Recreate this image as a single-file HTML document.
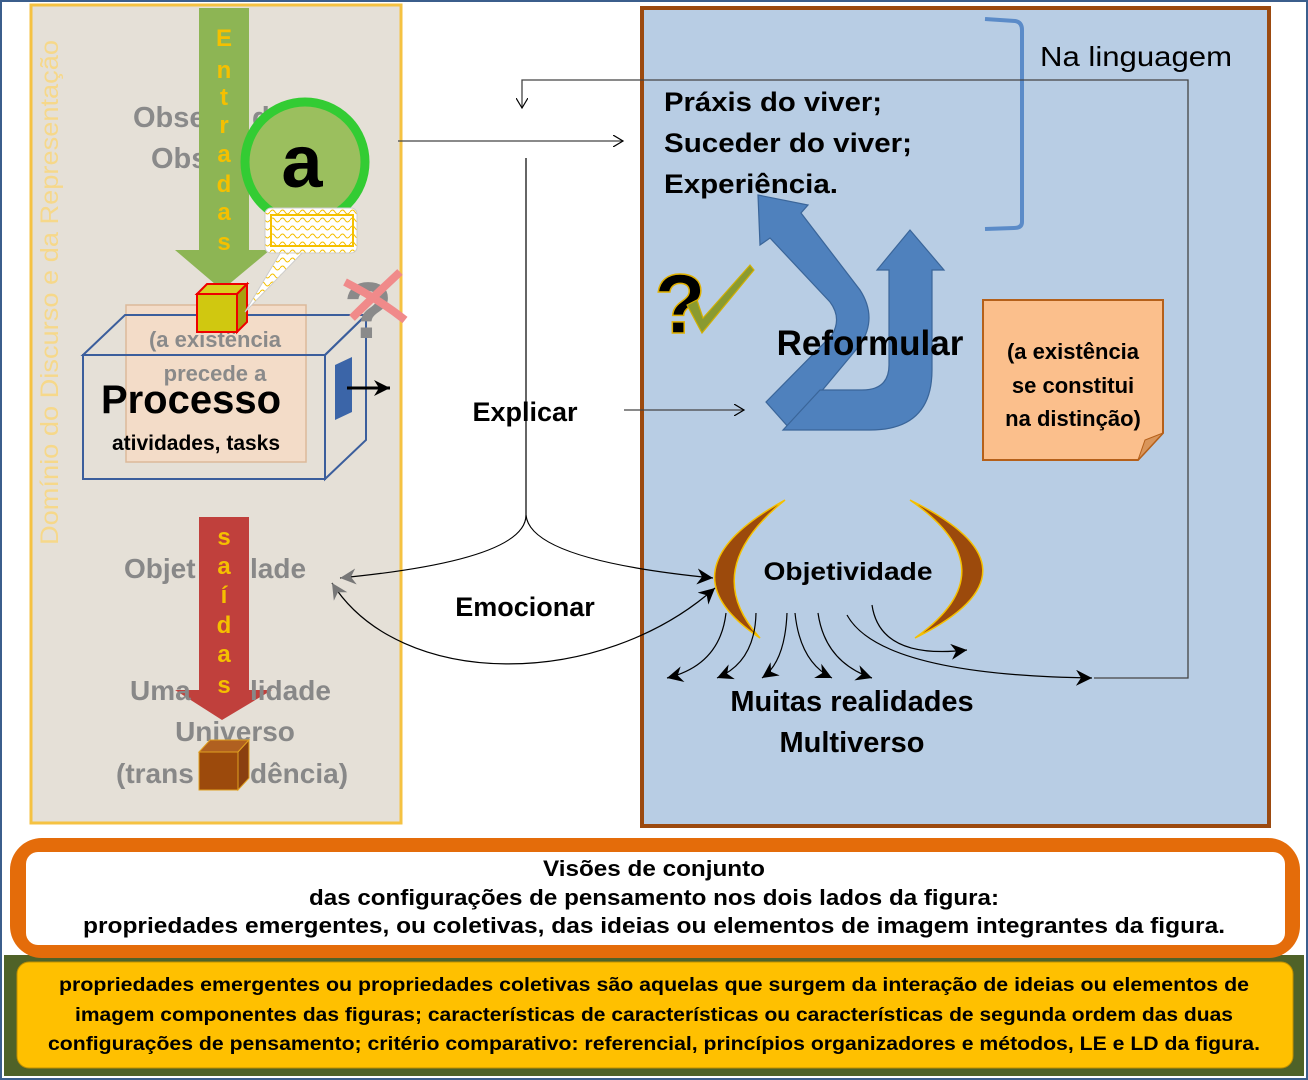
<!DOCTYPE html>
<html><head><meta charset="utf-8"><style>
html,body{margin:0;padding:0;background:#fff;}
svg{display:block;}
text{font-family:"Liberation Sans",sans-serif;}
</style></head><body>
<svg width="1308" height="1080" viewBox="0 0 1308 1080" xmlns="http://www.w3.org/2000/svg">
<defs>
<marker id="ah" markerWidth="12" markerHeight="12" refX="10" refY="6" orient="auto" markerUnits="userSpaceOnUse"><path d="M0,0 L10,6 L0,12" fill="none" stroke="#000" stroke-width="1.2"/></marker>
<marker id="af" markerWidth="20" markerHeight="16" refX="16" refY="8" orient="auto" markerUnits="userSpaceOnUse"><path d="M0,0 L16,8 L0,16 L5,8 Z" fill="#000"/></marker>
<marker id="afs" markerWidth="20" markerHeight="16" refX="16" refY="8" orient="auto-start-reverse" markerUnits="userSpaceOnUse"><path d="M0,0 L16,8 L0,16 L5,8 Z" fill="#777"/></marker>
<marker id="ag" markerWidth="20" markerHeight="16" refX="16" refY="8" orient="auto" markerUnits="userSpaceOnUse"><path d="M0,0 L16,8 L0,16 L5,8 Z" fill="#777"/></marker>
<pattern id="wav" width="10" height="8" patternUnits="userSpaceOnUse"><rect width="10" height="8" fill="#fff"/><path d="M0,4 Q2.5,0 5,4 T10,4" fill="none" stroke="#f5c000" stroke-width="1"/></pattern>
</defs>
<rect x="0" y="0" width="1308" height="1080" fill="#fff"/>
<rect x="1" y="1" width="1306" height="1078" fill="none" stroke="#3b5e8c" stroke-width="2"/>

<!-- LEFT PANEL -->
<rect x="31" y="5" width="370" height="818" fill="#e5e0d7" stroke="#f5c242" stroke-width="3"/>
<text transform="translate(58,545) rotate(-90)" font-size="25" fill="#f6d88a" textLength="505" lengthAdjust="spacingAndGlyphs">Domínio do Discurso e da Representação</text>

<text x="133" y="127" font-size="29" font-weight="bold" fill="#8a8a8a">Obse</text>
<text x="252" y="127" font-size="29" font-weight="bold" fill="#8a8a8a">d</text>
<text x="151" y="168" font-size="29" font-weight="bold" fill="#8a8a8a">Obs</text>

<!-- green arrow -->
<path d="M199,8 L249,8 L249,250 L270,250 L222,290 L175,250 L199,250 Z" fill="#8db554"/>
<g font-size="24" fill="#f5c000" text-anchor="middle" font-weight="bold">
<text x="224" y="46">E</text><text x="224" y="78">n</text><text x="224" y="105">t</text><text x="224" y="133">r</text><text x="224" y="162">a</text><text x="224" y="192">d</text><text x="224" y="220">a</text><text x="224" y="250">s</text>
</g>

<!-- peach note -->
<rect x="126" y="305" width="180" height="157" fill="#f3dcc8" stroke="#dcb99a" stroke-width="1.5"/>
<text x="215" y="347" font-size="22" font-weight="bold" fill="#8a8a8a" text-anchor="middle">(a existência</text>
<text x="215" y="381" font-size="22" font-weight="bold" fill="#8a8a8a" text-anchor="middle">precede a</text>

<!-- 3D box -->
<path d="M83,355 L125,315 L366,315 L325,355 Z" fill="none" stroke="#3b5e9c" stroke-width="2"/>
<path d="M325,355 L366,315 L366,440 L325,479 Z" fill="none" stroke="#3b5e9c" stroke-width="2"/>
<rect x="83" y="355" width="242" height="124" fill="none" stroke="#3b5e9c" stroke-width="2"/>
<text x="191" y="413" font-size="40" font-weight="bold" fill="#000" text-anchor="middle">Processo</text>
<text x="196" y="450" font-size="21" font-weight="bold" fill="#000" text-anchor="middle">atividades, tasks</text>
<path d="M335,365 L352,357 L352,412 L335,420 Z" fill="#3b65a8"/>
<line x1="347" y1="388" x2="390" y2="388" stroke="#000" stroke-width="3" marker-end="url(#af)"/>

<!-- yellow cube -->
<path d="M197,294 L207,284 L247,284 L237,294 Z" fill="#d9d020" stroke="#e00" stroke-width="2"/>
<path d="M237,294 L247,284 L247,322 L237,332 Z" fill="#a8a010" stroke="#e00" stroke-width="2"/>
<rect x="197" y="294" width="40" height="38" fill="#d0c810" stroke="#e00" stroke-width="2"/>

<!-- green circle -->
<circle cx="305" cy="162" r="60" fill="#9bbf5e" stroke="#33cc33" stroke-width="9"/>
<text x="302" y="187" font-size="74" font-weight="bold" fill="#000" text-anchor="middle">a</text>

<!-- callout -->
<path d="M282,250 L245,312 L305,250 Z" fill="url(#wav)" stroke="#ccc"/>
<rect x="265" y="208" width="92" height="45" rx="6" fill="url(#wav)" stroke="#ccc"/>
<rect x="271" y="215" width="82" height="31" fill="url(#wav)" stroke="#f5c000" stroke-width="2"/>

<!-- grey ? and red X -->
<text x="368" y="338" font-size="80" font-weight="bold" fill="#8a8a8a" text-anchor="middle">?</text>
<path d="M345,282 Q380,300 405,320" fill="none" stroke="#f08a8a" stroke-width="8"/>
<path d="M400,272 Q370,300 352,318" fill="none" stroke="#f08a8a" stroke-width="8"/>

<!-- red arrow -->
<path d="M199,517 L249,517 L249,690 L272,690 L222,720 L175,690 L199,690 Z" fill="#c0403c"/>
<text x="124" y="578" font-size="28" font-weight="bold" fill="#888">Objet</text>
<text x="250" y="578" font-size="28" font-weight="bold" fill="#888">lade</text>
<text x="130" y="700" font-size="28" font-weight="bold" fill="#888">Uma</text>
<text x="250" y="700" font-size="28" font-weight="bold" fill="#888">lidade</text>
<text x="235" y="741" font-size="28" font-weight="bold" fill="#888" text-anchor="middle">Universo</text>
<text x="116" y="783" font-size="28" font-weight="bold" fill="#888">(trans</text>
<text x="250" y="783" font-size="28" font-weight="bold" fill="#888">dência)</text>
<g font-size="24" fill="#f5c000" text-anchor="middle" font-weight="bold">
<text x="224" y="545">s</text><text x="224" y="574">a</text><text x="224" y="603">í</text><text x="224" y="633">d</text><text x="224" y="662">a</text><text x="224" y="693">s</text>
</g>
<!-- brown cube -->
<path d="M199,752 L210,740 L249,740 L238,752 Z" fill="#b06020" stroke="#e0a020"/>
<path d="M238,752 L249,740 L249,778 L238,790 Z" fill="#8a4010" stroke="#e0a020"/>
<rect x="199" y="752" width="39" height="38" fill="#9c4a0c" stroke="#e0a020"/>

<!-- RIGHT PANEL -->
<rect x="642" y="8" width="627" height="818" fill="#b8cde4" stroke="#9c4a0f" stroke-width="4"/>
<path d="M985,19 L1015,21 Q1022,22 1022,30 L1022,222 Q1022,228 1014,228 L985,229" fill="none" stroke="#5b8bc8" stroke-width="4"/>
<text x="1040" y="66" font-size="28" fill="#000" textLength="192" lengthAdjust="spacingAndGlyphs">Na linguagem</text>

<polyline points="1094,678 1188,678 1188,80 522,80 522,108" fill="none" stroke="#444" stroke-width="1.3" marker-end="url(#ah)"/>

<text x="664" y="111" font-size="27" font-weight="bold" fill="#000" textLength="218" lengthAdjust="spacingAndGlyphs">Práxis do viver;</text>
<text x="664" y="152" font-size="27" font-weight="bold" fill="#000" textLength="248" lengthAdjust="spacingAndGlyphs">Suceder do viver;</text>
<text x="664" y="193" font-size="27" font-weight="bold" fill="#000" textLength="174" lengthAdjust="spacingAndGlyphs">Experiência.</text>

<!-- blue arrows -->
<path d="M758,195 L808,205 L801,213 L860,290 Q878,318 860,345 L790,429 L766,402 L832,335 Q842,318 830,302 L770,238 L760,245 Z" fill="#4f81bd" stroke="#3a6599" stroke-width="1.2"/>
<path d="M783,430 L870,430 Q932,430 932,370 L932,270 L944,270 L910,230 L877,270 L889,270 L889,365 Q889,390 862,390 L820,390 Z" fill="#4f81bd" stroke="#3a6599" stroke-width="1.2"/>
<text x="870" y="355" font-size="35" font-weight="bold" fill="#000" text-anchor="middle">Reformular</text>

<!-- ? and check -->
<text x="680" y="333" font-size="84" font-weight="bold" fill="#000" stroke="#e0b000" stroke-width="1.5" text-anchor="middle">?</text>
<path d="M687,305 L697,300 L703,318 L750,265 L754,270 L702,333 Z" fill="#8a9a30" stroke="#d4b000" stroke-width="1.2"/>

<!-- note -->
<path d="M983,300 L1163,300 L1163,433 L1138,460 L983,460 Z" fill="#fbbf8c" stroke="#b5601a" stroke-width="2"/>
<path d="M1138,460 L1145,440 L1163,433 Z" fill="#d9955a" stroke="#b5601a"/>
<g font-size="22" font-weight="bold" fill="#000" text-anchor="middle">
<text x="1073" y="359">(a existência</text>
<text x="1073" y="393">se constitui</text>
<text x="1073" y="426">na distinção)</text>
</g>

<!-- connectors -->
<line x1="398" y1="141" x2="623" y2="141" stroke="#444" stroke-width="1.2" marker-end="url(#ah)"/>
<path d="M526,158 L526,515 Q526,560 340,578" fill="none" stroke="#000" stroke-width="1.2" marker-end="url(#ag)"/>
<path d="M526,515 Q530,560 713,578" fill="none" stroke="#000" stroke-width="1.2" marker-end="url(#af)"/>
<path d="M332,583 C400,690 600,690 715,588" fill="none" stroke="#000" stroke-width="1.2" marker-start="url(#afs)" marker-end="url(#af)"/>
<line x1="624" y1="410" x2="744" y2="410" stroke="#444" stroke-width="1.2" marker-end="url(#ah)"/>
<text x="525" y="421" font-size="27" font-weight="bold" fill="#000" text-anchor="middle">Explicar</text>
<text x="525" y="616" font-size="27" font-weight="bold" fill="#000" text-anchor="middle">Emocionar</text>

<!-- crescents -->
<path d="M785,500 Q658,570 760,638 Q698,570 785,500 Z" fill="#9c4a0c" stroke="#f5c000" stroke-width="1.5"/>
<path d="M910,500 Q1053,570 915,638 Q1011,570 910,500 Z" fill="#9c4a0c" stroke="#f5c000" stroke-width="1.5"/>
<text x="848" y="580" font-size="25" font-weight="bold" fill="#000" text-anchor="middle" textLength="169" lengthAdjust="spacingAndGlyphs">Objetividade</text>

<!-- fan arrows -->
<g fill="none" stroke="#000" stroke-width="1.2">
<path d="M726,613 Q720,665 667,678" marker-end="url(#af)"/>
<path d="M756,613 Q755,662 717,678" marker-end="url(#af)"/>
<path d="M787,613 Q785,662 762,678" marker-end="url(#af)"/>
<path d="M795,613 Q800,662 832,678" marker-end="url(#af)"/>
<path d="M818,613 Q825,662 872,678" marker-end="url(#af)"/>
<path d="M872,605 Q880,660 967,650" marker-end="url(#af)"/>
<path d="M847,615 Q880,675 1092,678" marker-end="url(#af)"/>
</g>
<g font-size="29" font-weight="bold" fill="#000" text-anchor="middle">
<text x="852" y="711">Muitas realidades</text>
<text x="852" y="752">Multiverso</text>
</g>

<!-- BOTTOM -->
<rect x="4" y="955" width="1300" height="121" fill="#4f6228"/>
<rect x="10" y="838" width="1290" height="120" rx="32" fill="#e46c0a"/>
<rect x="26" y="852" width="1259" height="93" rx="12" fill="#fff"/>
<g font-size="22" font-weight="bold" fill="#000" text-anchor="middle">
<text x="654" y="876" textLength="222" lengthAdjust="spacingAndGlyphs">Visões de conjunto</text>
<text x="654" y="905" textLength="690" lengthAdjust="spacingAndGlyphs">das configurações de pensamento nos dois lados da figura:</text>
<text x="654" y="933" textLength="1142" lengthAdjust="spacingAndGlyphs">propriedades emergentes, ou coletivas, das ideias ou elementos de imagem integrantes da figura.</text>
</g>
<rect x="17" y="962" width="1276" height="106" rx="12" fill="#ffc000" stroke="#c09000"/>
<g font-size="19" font-weight="bold" fill="#000" text-anchor="middle">
<text x="654" y="991" textLength="1190" lengthAdjust="spacingAndGlyphs">propriedades emergentes ou propriedades coletivas são aquelas que surgem da interação de ideias ou elementos de</text>
<text x="654" y="1021" textLength="1158" lengthAdjust="spacingAndGlyphs">imagem componentes das figuras; características de características ou características de segunda ordem das duas</text>
<text x="654" y="1050" textLength="1212" lengthAdjust="spacingAndGlyphs">configurações de pensamento; critério comparativo: referencial, princípios organizadores e métodos, LE e LD da figura.</text>
</g>
</svg>
</body></html>
